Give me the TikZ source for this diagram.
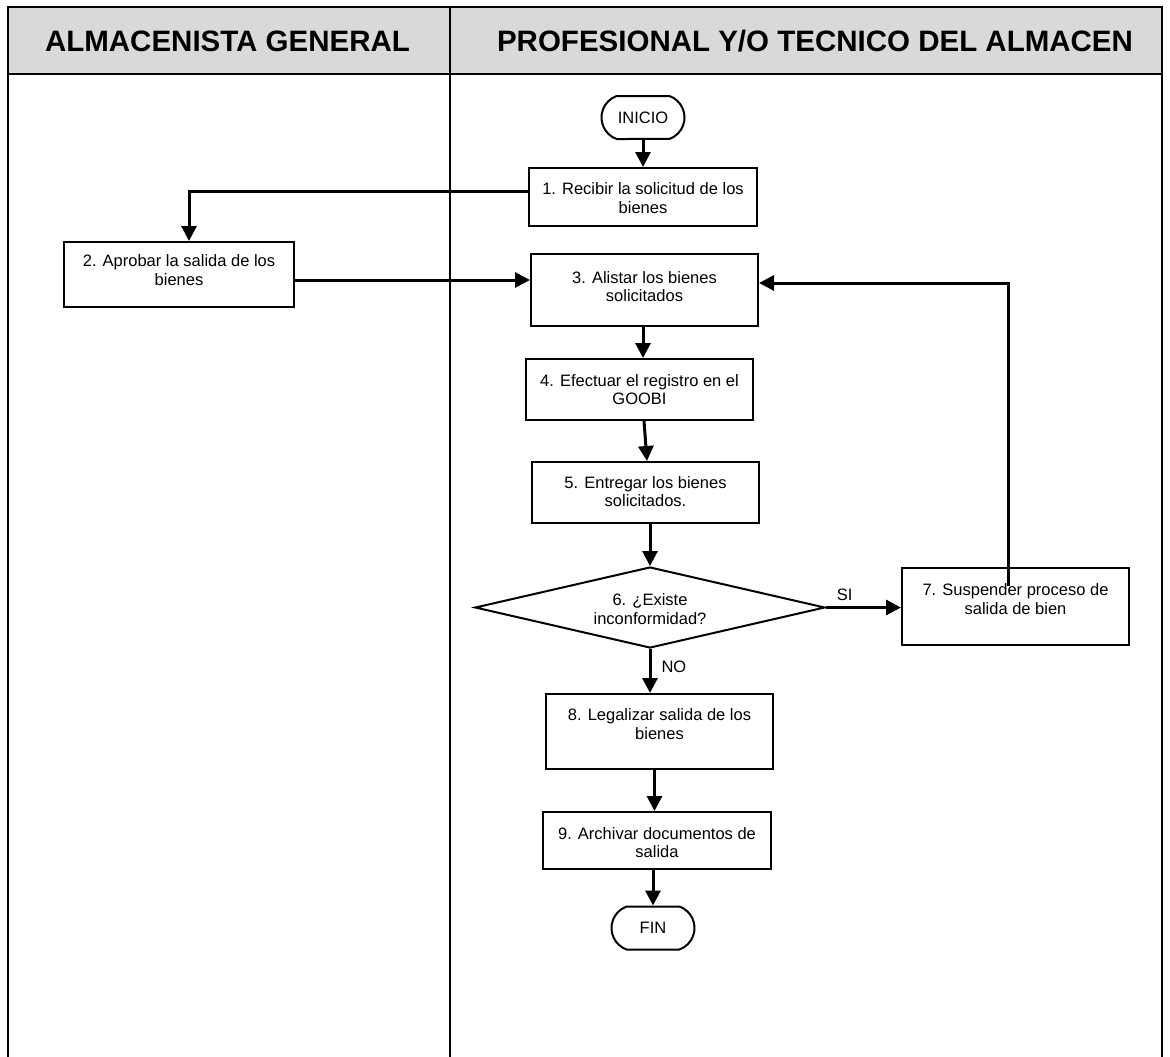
\documentclass[tikz,border=0pt]{standalone}
\usepackage{fontspec}
\setmainfont{Liberation Sans}
\usetikzlibrary{shapes.geometric,shapes.misc,arrows.meta}
\definecolor{hdrgray}{RGB}{217,217,217}
\begin{document}
\begin{tikzpicture}[x=1pt,y=-1pt,
  box/.style={draw, line width=2pt, rectangle, inner sep=0pt},
  term/.style={draw, line width=2pt, rounded rectangle, rounded rectangle arc length=140,
    minimum width=83pt, minimum height=43pt, inner sep=0pt, font=\fontsize{16.5}{18.5}\selectfont},
  dec/.style={draw, line width=2pt, diamond, shape aspect=4.3, inner sep=0pt},
  txt/.style={align=center, inner sep=0pt, font=\fontsize{16.5}{18.5}\selectfont},
  lbl/.style={inner sep=0pt, font=\fontsize{16.5}{18.5}\selectfont},
  arr/.style={line width=3pt, -{Triangle[length=15pt,width=15pt]}},
  hdr/.style={inner sep=0pt, font=\fontsize{29.5}{32}\selectfont\bfseries},
  lane/.style={line width=2.5pt}]
\useasboundingbox (0,0) rectangle (1170,1057);
% header and lanes
\fill[hdrgray] (8,7) rectangle (1162,74);
\draw[lane] (8,1057) -- (8,7) -- (1162,7) -- (1162,1057);
\draw[lane] (8,74) -- (1162,74);
\draw[lane] (450,7) -- (450,1057);
\node[hdr] (h1) at (227.5,41) {ALMACENISTA GENERAL};
\node[hdr] (h2) at (815,41) {PROFESIONAL Y/O TECNICO DEL ALMACEN};
% nodes
\node[term] (ini) at (643,117.5) {INICIO};
\node[box, minimum width=228pt, minimum height=58pt] (b1) at (643,197) {};
\node[txt] (t1) at (643,198) {1. Recibir la solicitud de los\\bienes};
\node[box, minimum width=230pt, minimum height=65pt] (b2) at (179,274.5) {};
\node[txt] (t2) at (179,270) {2. Aprobar la salida de los\\bienes};
\node[box, minimum width=227pt, minimum height=72pt] (b3) at (644.5,290) {};
\node[txt] (t3) at (644.5,286.5) {3. Alistar los bienes\\solicitados};
\node[box, minimum width=227pt, minimum height=61pt] (b4) at (639.5,389.5) {};
\node[txt] (t4) at (639.5,389.5) {4. Efectuar el registro en el\\GOOBI};
\node[box, minimum width=227pt, minimum height=61pt] (b5) at (645.5,492.5) {};
\node[txt] (t5) at (645.5,491.5) {5. Entregar los bienes\\solicitados.};
\node[dec, minimum width=350pt, minimum height=81pt] (d6) at (650,607.5) {};
\node[txt] (t6) at (650,609) {6. ¿Existe\\inconformidad?};
\node[box, minimum width=227pt, minimum height=77pt] (b7) at (1015.5,606.5) {};
\node[txt] (t7) at (1015.5,599) {7. Suspender proceso de\\salida de bien};
\node[box, minimum width=227pt, minimum height=75pt] (b8) at (659.5,731.5) {};
\node[txt] (t8) at (659.5,724) {8. Legalizar salida de los\\bienes};
\node[box, minimum width=228pt, minimum height=57pt] (b9) at (657,840.5) {};
\node[txt] (t9) at (657,842.5) {9. Archivar documentos de\\salida};
\node[term] (fin) at (653,928) {FIN};
% connectors
\draw[arr] (ini.south) -- (ini.south |- b1.north);
\draw[arr] ([yshift=6pt]b1.west) -| ([xshift=10pt]b2.north);
\draw[arr] ([yshift=-5.5pt]b2.east) coordinate (a23) -- (a23 -| b3.west);
\draw[arr] (b3.south -| 643,0) -- (b4.north -| 643,0);
\draw[arr] ([xshift=4.5pt]b4.south) -- ([xshift=1.5pt]b5.north);
\draw[arr] (d6.north |- b5.south) -- (d6.north);
\draw[arr] (d6.east) -- (d6.east -| b7.west) node[lbl, pos=0.25, above=5pt] (si) {SI};
\draw[arr] ([xshift=-7.5pt,yshift=-19pt]b7.north) |- ([yshift=7pt]b3.east);
\draw[arr] (d6.south) -- (d6.south |- b8.north) node[lbl, pos=0.4, right=10pt] (no) {NO};
\draw[arr] ([xshift=-5pt]b8.south) -- ([xshift=-5pt]b8.south |- b9.north);
\draw[arr] (fin.north |- b9.south) -- (fin.north);
\end{tikzpicture}
\end{document}
